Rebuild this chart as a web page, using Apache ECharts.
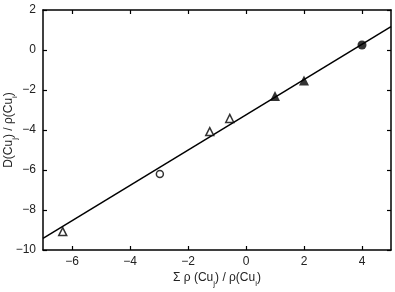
<!DOCTYPE html>
<html><head><meta charset="utf-8">
<script src="https://cdn.jsdelivr.net/npm/echarts@6/dist/echarts.min.js"></script>
<style>html,body{margin:0;padding:0;background:#fff}#c{width:395px;height:292px}</style>
</head><body><div id="c"></div>
<script>
// Data
const openTriX = [-6.32, -1.25, -0.56];
const openTriY = [-9.08, -4.08, -3.42];
const openCircX = [-2.97];
const openCircY = [-6.2];
const fillTriX = [1.0, 2.0];
const fillTriY = [-2.3, -1.53];
const fillCircX = [4.0];
const fillCircY = [0.25];
const fitX = [-7, 5];
const fitY = [-9.42, 1.17];
const xTicks = [-6, -4, -2, 0, 2, 4];
const yTicks = [-10, -8, -6, -4, -2, 0, 2];

const zip = (a, b) => a.map((v, i) => [v, b[i]]);
const fmt = v => String(v).replace('-', '\u2212');
const font = 'Liberation Sans, Arial, sans-serif';
const axisLine = {show: true, onZero: false, lineStyle: {color: '#000', width: 1.5}};
const tick = {show: true, inside: true, length: 4, lineStyle: {color: '#000', width: 1.2}};
const sub = {fontSize: 8, verticalAlign: 'bottom', padding: [0,0,-4,0], fontFamily: font, color: '#222'};

const chart = echarts.init(document.getElementById('c'));
chart.setOption({
  animation: false,
  grid: {left: 43, right: 4, top: 10, bottom: 42, containLabel: false, outerBoundsMode: 'none'},
  xAxis: [{
    type: 'value', min: -7, max: 5, interval: 1, position: 'bottom',
    axisLine, axisTick: {...tick, customValues: xTicks},
    axisLabel: {customValues: xTicks, formatter: fmt, margin: 6, fontSize: 12, color: '#222', fontFamily: font},
    splitLine: {show: false},
    name: 'Σ ρ (Cu{s|j}) / ρ(Cu{s|i})', nameLocation: 'middle', nameGap: 22, nameMoveOverlap: false,
    nameTextStyle: {fontSize: 12, color: '#222', fontFamily: font, rich: {s: sub}}
  }, {
    type: 'value', min: -7, max: 5, interval: 1, position: 'top',
    axisLine, axisTick: {...tick, customValues: xTicks}, axisLabel: {show: false}, splitLine: {show: false}
  }],
  yAxis: [{
    type: 'value', min: -10, max: 2, interval: 2, position: 'left',
    axisLine, axisTick: tick,
    axisLabel: {formatter: fmt, margin: 7, fontSize: 12, color: '#222', fontFamily: font},
    splitLine: {show: false},
    name: 'D(Cu{s|j}) / ρ(Cu{s|i})', nameLocation: 'middle', nameGap: 28, nameMoveOverlap: false,
    nameTextStyle: {fontSize: 12, color: '#222', fontFamily: font, rich: {s: sub}}
  }, {
    type: 'value', min: -10, max: 2, interval: 2, position: 'right',
    axisLine, axisTick: tick, axisLabel: {show: false}, splitLine: {show: false}
  }],
  series: [
    {type: 'line', data: zip(fitX, fitY), symbol: 'none', lineStyle: {color: '#000', width: 1.5}, z: 1},
    {type: 'scatter', data: zip(openTriX, openTriY), symbol: 'triangle', symbolSize: 8,
      itemStyle: {color: '#fff', borderColor: '#000', borderWidth: 1.5}, z: 3},
    {type: 'scatter', data: zip(openCircX, openCircY), symbol: 'circle', symbolSize: 7,
      itemStyle: {color: '#fff', borderColor: '#000', borderWidth: 1.5}, z: 3},
    {type: 'scatter', data: zip(fillTriX, fillTriY), symbol: 'triangle', symbolSize: 10,
      itemStyle: {color: '#000'}, z: 3},
    {type: 'scatter', data: zip(fillCircX, fillCircY), symbol: 'circle', symbolSize: 9,
      itemStyle: {color: '#000'}, z: 3}
  ]
});
</script></body></html>
